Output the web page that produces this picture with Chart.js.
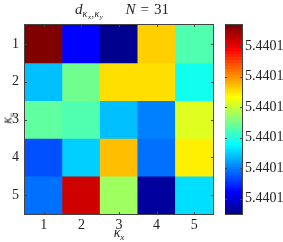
<!DOCTYPE html>
<html>
<head>
<meta charset="utf-8">
<script src="https://cdn.jsdelivr.net/npm/chart.js@4.4.1/dist/chart.umd.min.js"></script>
<style>
  body { margin: 0; background: #fff; width: 283px; height: 242px; overflow: hidden; position: relative; font-family: "Liberation Serif", "DejaVu Serif", serif; color: #222; }
  .box { position: absolute; }
  .lbl { position: absolute; font-size: 14px; white-space: nowrap; }
  .lbl sub { font-size: 9px; vertical-align: -3px; }
  .lbl sub sub { font-size: 7px; vertical-align: -2px; }
  #title { font-size: 15px; }
  #title sub { font-size: 10px; vertical-align: -3px; letter-spacing: 0.5px; }
  #title sub sub { font-size: 7px; vertical-align: -2px; }
</style>
</head>
<body>
<div class="box" id="mainBox" style="left:0;top:0;width:283px;height:242px;"><canvas id="heat"></canvas></div>
<div class="box" id="barBox" style="left:225px;top:0;width:58px;height:242px;"><canvas id="cbar"></canvas></div>

<div class="lbl" id="title" style="left:0;width:244px;top:1px;text-align:center;"><i>d</i><sub><i>κ<sub>x</sub></i>,<i>κ<sub>y</sub></i></sub><span style="display:inline-block;width:22px"></span><i>N</i><span style="display:inline-block;width:5px"></span>=<span style="display:inline-block;width:5px"></span>31</div>
<div class="lbl" id="xlab" style="left:0;width:238px;top:225px;text-align:center;"><i>κ<sub>x</sub></i></div>
<div class="lbl" id="ylab" style="left:-12px;top:110px;width:40px;text-align:center;transform:rotate(-90deg);"><i>κ<sub>y</sub></i></div>

<script>
// kappa_x columns, kappa_y rows
const KX = ['1', '2', '3', '4', '5'];
const KY = [1, 2, 3, 4, 5];

// d values per row (kappa_y = 1..5)
const ROW1 = [5.4401124, 5.44010136, 5.4401000, 5.44010818, 5.44010543];
const ROW2 = [5.44010372, 5.44010583, 5.44010806, 5.44010800, 5.44010465];
const ROW3 = [5.44010577, 5.44010546, 5.44010372, 5.44010310, 5.44010732];
const ROW4 = [5.44010236, 5.44010388, 5.44010837, 5.44010273, 5.44010775];
const ROW5 = [5.44010273, 5.44011128, 5.44010645, 5.44010037, 5.44010409];
const ROWS = [ROW1, ROW2, ROW3, ROW4, ROW5];

const CBAR_TICKS = [5.440101, 5.440103, 5.440105, 5.440107, 5.440109, 5.440111];

// matlab style jet(64)
function jet(m) {
    var n = Math.ceil(m / 4);
    var u = [];
    for (var i = 1; i <= n; i++) u.push(i / n);
    for (var i = 1; i < n; i++) u.push(1);
    for (var i = n; i >= 1; i--) u.push(i / n);
    var g0 = Math.ceil(n / 2) - (m % 4 == 1 ? 1 : 0);
    var J = [];
    for (var i = 0; i < m; i++) J.push([0, 0, 0]);
    for (var k = 0; k < u.length; k++) {
        var g = g0 + k + 1, r = g + n, b = g - n;
        if (r >= 1 && r <= m) J[r - 1][0] = u[k];
        if (g >= 1 && g <= m) J[g - 1][1] = u[k];
        if (b >= 1 && b <= m) J[b - 1][2] = u[k];
    }
    return J.map(function (c) {
        return 'rgb(' + Math.round(c[0] * 255) + ',' + Math.round(c[1] * 255) + ',' + Math.round(c[2] * 255) + ')';
    });
}
const CMAP = jet(64);

var all = [].concat.apply([], ROWS);
var vmin = Math.min.apply(null, all);
var vmax = Math.max.apply(null, all);

function colorFor(v) {
    var idx = Math.floor((v - vmin) / (vmax - vmin) * 64 + 1e-9);
    if (idx > 63) idx = 63;
    if (idx < 0) idx = 0;
    return CMAP[idx];
}

// box + inward ticks like matlab
const framePlugin = {
    id: 'frame',
    afterDraw: function (chart) {
        var ctx = chart.ctx, a = chart.chartArea;
        ctx.save();
        ctx.strokeStyle = '#444';
        ctx.lineWidth = 1;
        ctx.beginPath();
        ['x', 'y'].forEach(function (id) {
            var s = chart.scales[id];
            if (!s || !s.options.display) return;
            s.ticks.forEach(function (t, i) {
                var p = Math.round(s.getPixelForTick(i)) + 0.5;
                if (id == 'x') {
                    ctx.moveTo(p, a.bottom); ctx.lineTo(p, a.bottom - 2);
                    ctx.moveTo(p, a.top); ctx.lineTo(p, a.top + 2);
                } else {
                    ctx.moveTo(a.left, p); ctx.lineTo(a.left + 2, p);
                    ctx.moveTo(a.right, p); ctx.lineTo(a.right - 2, p);
                }
            });
        });
        ctx.stroke();
        ctx.strokeRect(Math.round(a.left) - 0.5, Math.round(a.top) - 0.5, Math.round(a.right - a.left) + 1, Math.round(a.bottom - a.top) + 1);
        ctx.restore();
    }
};

var tickFont = { family: '"Liberation Serif", serif', size: 14 };

new Chart(document.getElementById('heat'), {
    type: 'bar',
    data: {
        labels: KX,
        datasets: ROWS.map(function (row, r) {
            return {
                data: row.map(function () { return [KY[r] - 0.5, KY[r] + 0.5]; }),
                backgroundColor: row.map(colorFor),
                borderWidth: 0,
                grouped: false,
                barPercentage: 1,
                categoryPercentage: 1
            };
        })
    },
    options: {
        responsive: true,
        maintainAspectRatio: false,
        animation: false,
        layout: { padding: { top: 25, right: 70, bottom: 10, left: 8 } },
        plugins: { legend: { display: false }, tooltip: { enabled: false } },
        scales: {
            x: {
                grid: { display: false, drawTicks: false },
                border: { display: false },
                ticks: { color: '#222', font: tickFont, padding: 3 },
                afterFit: function (s) { s.height = 18; }
            },
            y: {
                type: 'linear',
                reverse: true,
                min: 0.5,
                max: 5.5,
                grid: { display: false, drawTicks: false },
                border: { display: false },
                afterBuildTicks: function (s) { s.ticks = KY.map(function (v) { return { value: v }; }); },
                ticks: { color: '#222', font: tickFont, padding: 6 },
                afterFit: function (s) { s.width = 17; }
            }
        }
    },
    plugins: [framePlugin]
});

// colorbar, one strip per colormap entry
var step = (vmax - vmin) / CMAP.length;
new Chart(document.getElementById('cbar'), {
    type: 'bar',
    data: {
        labels: [''],
        datasets: CMAP.map(function (c, i) {
            return {
                data: [[vmin + i * step, vmin + (i + 1) * step]],
                backgroundColor: c,
                borderWidth: 0,
                grouped: false,
                barPercentage: 1,
                categoryPercentage: 1
            };
        })
    },
    options: {
        responsive: true,
        maintainAspectRatio: false,
        animation: false,
        layout: { padding: { top: 25, right: 0, bottom: 28, left: 0 } },
        plugins: { legend: { display: false }, tooltip: { enabled: false } },
        scales: {
            x: { display: false },
            y: {
                position: 'right',
                min: vmin,
                max: vmax,
                grid: { display: false, drawTicks: false },
                border: { display: false },
                afterBuildTicks: function (s) { s.ticks = CBAR_TICKS.map(function (v) { return { value: v }; }); },
                ticks: {
                    color: '#222', font: tickFont, padding: 3,
                    callback: function (v) { return v.toFixed(4); }
                },
                afterFit: function (s) { s.width = 41; }
            }
        }
    },
    plugins: [framePlugin]
});
</script>
</body>
</html>
